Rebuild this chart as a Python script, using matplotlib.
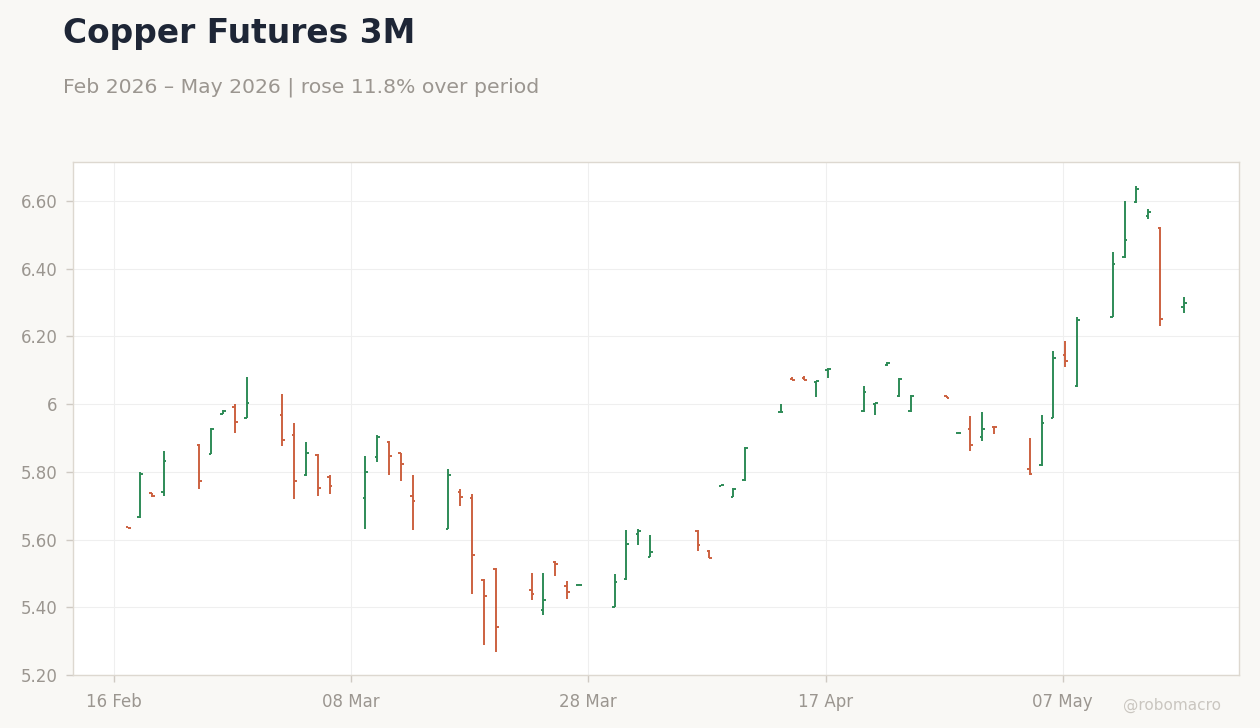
"""Copper futures 3M daily OHLC chart."""

import matplotlib
matplotlib.use("Agg")
import matplotlib.pyplot as plt
import matplotlib.dates as mdates
from matplotlib.ticker import FuncFormatter
import pandas as pd

# Daily OHLC values
dates = [
    "2026-02-17", "2026-02-18", "2026-02-19", "2026-02-20",
    "2026-02-23", "2026-02-24", "2026-02-25", "2026-02-26", "2026-02-27",
    "2026-03-02", "2026-03-03", "2026-03-04", "2026-03-05", "2026-03-06",
    "2026-03-09", "2026-03-10", "2026-03-11", "2026-03-12", "2026-03-13",
    "2026-03-16", "2026-03-17", "2026-03-18", "2026-03-19", "2026-03-20",
    "2026-03-23", "2026-03-24", "2026-03-25", "2026-03-26", "2026-03-27",
    "2026-03-30", "2026-03-31", "2026-04-01", "2026-04-02",
    "2026-04-06", "2026-04-07", "2026-04-08", "2026-04-09", "2026-04-10",
    "2026-04-13", "2026-04-14", "2026-04-15", "2026-04-16", "2026-04-17",
    "2026-04-20", "2026-04-21", "2026-04-22", "2026-04-23", "2026-04-24",
    "2026-04-27", "2026-04-28", "2026-04-29", "2026-04-30", "2026-05-01",
    "2026-05-04", "2026-05-05", "2026-05-06", "2026-05-07", "2026-05-08",
    "2026-05-11", "2026-05-12", "2026-05-13", "2026-05-14", "2026-05-15",
    "2026-05-17",
]
opens = [
    5.636, 5.667, 5.737, 5.741,
    5.879, 5.853, 5.972, 5.992, 5.960,
    5.969, 5.910, 5.791, 5.851, 5.786,
    5.724, 5.845, 5.889, 5.855, 5.729,
    5.631, 5.741, 5.724, 5.481, 5.513,
    5.451, 5.392, 5.535, 5.463, 5.466,
    5.402, 5.484, 5.617, 5.549,
    5.626, 5.567, 5.759, 5.727, 5.775,
    5.977, 6.075, 6.076, 6.065, 6.101,
    5.981, 6.000, 6.116, 6.024, 5.981,
    6.023, 5.915, 5.926, 5.904, 5.933,
    5.807, 5.820, 5.960, 6.146, 6.053,
    6.258, 6.434, 6.597, 6.556, 6.521,
    6.288,
]
highs = [
    5.637, 5.800, 5.738, 5.862,
    5.882, 5.929, 5.983, 6.000, 6.080,
    6.030, 5.944, 5.888, 5.853, 5.791,
    5.847, 5.909, 5.891, 5.857, 5.791,
    5.808, 5.749, 5.735, 5.484, 5.515,
    5.501, 5.501, 5.537, 5.478, 5.468,
    5.498, 5.628, 5.630, 5.613,
    5.627, 5.568, 5.761, 5.752, 5.872,
    5.999, 6.079, 6.083, 6.068, 6.107,
    6.053, 6.003, 6.124, 6.076, 6.027,
    6.024, 5.917, 5.965, 5.977, 5.935,
    5.901, 5.968, 6.157, 6.186, 6.257,
    6.449, 6.600, 6.644, 6.576, 6.524,
    6.317,
]
lows = [
    5.633, 5.664, 5.727, 5.730,
    5.750, 5.852, 5.970, 5.916, 5.958,
    5.877, 5.721, 5.789, 5.730, 5.735,
    5.631, 5.830, 5.791, 5.774, 5.628,
    5.631, 5.700, 5.439, 5.289, 5.269,
    5.421, 5.378, 5.492, 5.424, 5.465,
    5.400, 5.481, 5.584, 5.548,
    5.567, 5.545, 5.758, 5.726, 5.772,
    5.976, 6.070, 6.070, 6.022, 6.078,
    5.978, 5.968, 6.113, 6.022, 5.978,
    6.017, 5.914, 5.862, 5.892, 5.912,
    5.791, 5.818, 5.958, 6.110, 6.051,
    6.256, 6.432, 6.595, 6.547, 6.232,
    6.270,
]
closes = [
    5.634, 5.794, 5.729, 5.833,
    5.774, 5.925, 5.981, 5.948, 6.004,
    5.894, 5.774, 5.857, 5.753, 5.758,
    5.800, 5.904, 5.847, 5.823, 5.714,
    5.791, 5.727, 5.554, 5.434, 5.343,
    5.439, 5.421, 5.528, 5.445, 5.467,
    5.476, 5.587, 5.626, 5.564,
    5.584, 5.546, 5.760, 5.750, 5.870,
    5.978, 6.071, 6.072, 6.067, 6.105,
    6.037, 6.002, 6.122, 6.074, 6.025,
    6.019, 5.916, 5.880, 5.927, 5.932,
    5.794, 5.944, 6.136, 6.127, 6.248,
    6.414, 6.485, 6.635, 6.568, 6.251,
    6.299,
]

x_ticks = ["2026-02-16", "2026-03-08", "2026-03-28", "2026-04-17", "2026-05-07"]
y_ticks = [5.2, 5.4, 5.6, 5.8, 6.0, 6.2, 6.4, 6.6]

UP = "#2e8b57"
DOWN = "#cc6140"
BG = "#f9f8f5"
MUTED = "#9b9690"

df = pd.DataFrame({
    "date": pd.to_datetime(dates) + pd.Timedelta(hours=5),  # bar timestamps
    "open": opens, "high": highs, "low": lows, "close": closes,
})
df["x"] = mdates.date2num(df["date"])
df["color"] = [UP if c >= o else DOWN for o, c in zip(df["open"], df["close"])]

fig = plt.figure(figsize=(12.6, 7.28), dpi=100, facecolor=BG)
ax = fig.add_axes([0.0579, 0.0728, 0.9254, 0.7047])
ax.set_facecolor("white")

# OHLC bars: high-low line, open tick left, close tick right
tick = 0.22
ax.vlines(df["x"], df["low"], df["high"], colors=df["color"], linewidth=1.4)
ax.hlines(df["open"], df["x"] - tick, df["x"], colors=df["color"], linewidth=1.4)
ax.hlines(df["close"], df["x"], df["x"] + tick, colors=df["color"], linewidth=1.4)

start = mdates.date2num(pd.Timestamp(x_ticks[0]))
ax.set_xlim(start - 3.45, start + 94.85)
ax.set_ylim(5.2, 6.715)

ax.set_xticks(mdates.date2num(pd.to_datetime(x_ticks)))
ax.xaxis.set_major_formatter(mdates.DateFormatter("%d %b"))
ax.set_yticks(y_ticks)
ax.yaxis.set_major_formatter(
    FuncFormatter(lambda v, _: "6" if abs(v - 6) < 1e-9 else f"{v:.2f}")
)

ax.grid(True, color="#efefef", linewidth=0.8)
ax.set_axisbelow(True)
for sp in ax.spines.values():
    sp.set_color("#ddd8d0")
    sp.set_linewidth(1.0)
ax.tick_params(colors="#cfcac3", labelcolor=MUTED, labelsize=12, length=5, width=1)
ax.tick_params(axis="x", pad=8)
ax.tick_params(axis="y", pad=6)

change = (closes[-1] / closes[0] - 1) * 100
word = "rose" if change >= 0 else "fell"
fig.text(0.05, 0.941, "Copper Futures 3M", fontsize=23.7, fontweight="bold",
         color="#1e2636", va="baseline")
fig.text(0.05, 0.873,
         f"Feb 2026 \u2013 May 2026 | {word} {abs(change):.1f}% over period",
         fontsize=14.65, color=MUTED, va="baseline")
fig.text(0.969, 0.025, "@robomacro", fontsize=11, color="#cac6c0",
         ha="right", va="baseline")

fig.savefig("out.png", dpi=100, facecolor=BG)
